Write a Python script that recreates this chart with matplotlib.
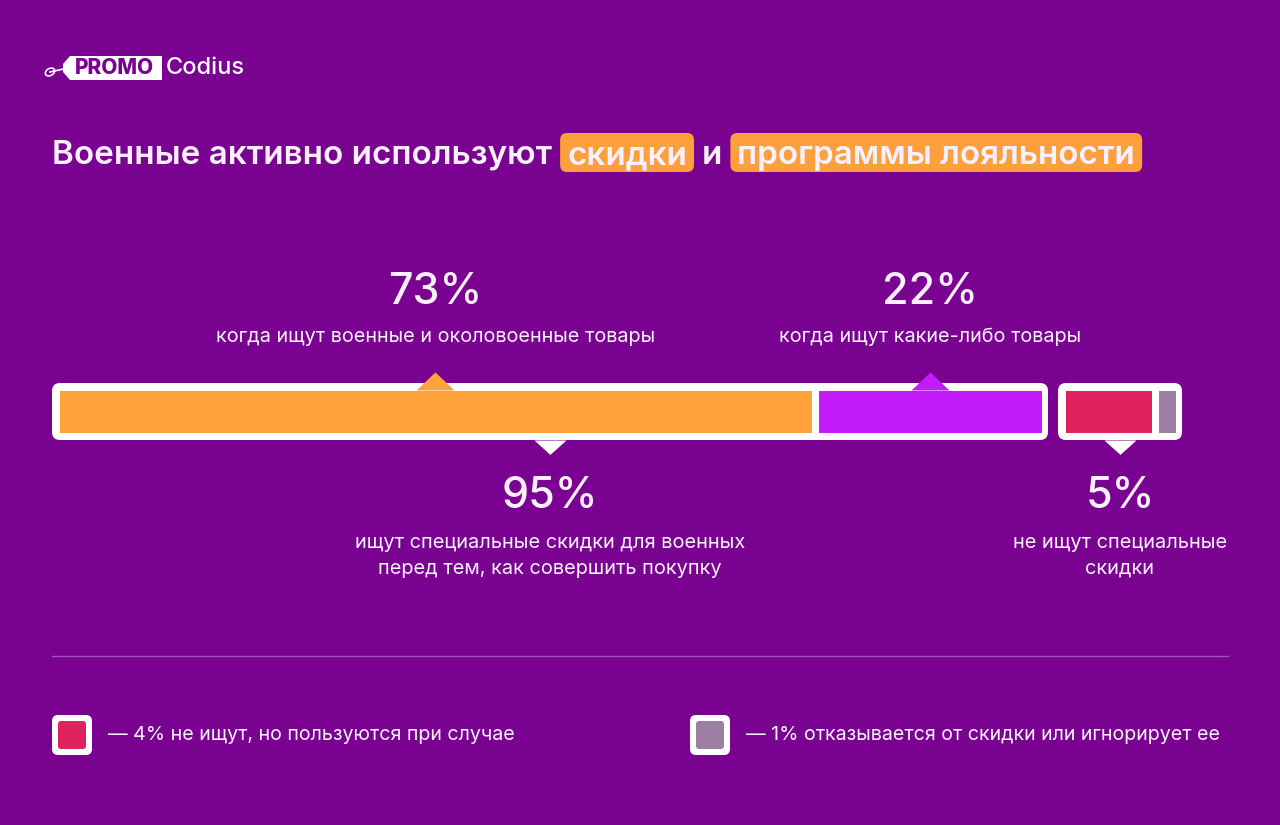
import numpy as np
import matplotlib.pyplot as plt
from matplotlib.patches import FancyBboxPatch, Polygon, Ellipse
from matplotlib.path import Path
from matplotlib import transforms

# ── Data ───────────────────────────────────────────────────────────────────────

group_main   = [73, 22]          # ищут скидки (95%)
group_other  = [4, 1]            # не ищут (5%)
main_colors  = ["#FFA23A", "#C41BFA"]
other_colors = ["#E0235F", "#9D7FA3"]
main_labels  = ["когда ищут военные и околовоенные товары", "когда ищут какие-либо товары"]
group_totals = [95, 5]
group_labels = ["ищут специальные скидки для военных\nперед тем, как совершить покупку",
                "не ищут специальные\nскидки"]
legend_texts = ["— 4% не ищут, но пользуются при случае",
                "— 1% отказывается от скидки или игнорирует ее"]

title_parts = [("Военные активно используют", False), ("скидки", True),
               ("и", False), ("программы лояльности", True)]

BG     = "#7A0290"
WHITE  = "#FFFFFF"
TXT    = "#FBF0FF"
FONT   = ["Inter", "DejaVu Sans"]

plt.rcParams["font.family"] = FONT

W, H = 1280, 825
fig = plt.figure(figsize=(W / 100, H / 100), dpi=100, facecolor=BG)
ax = fig.add_axes([0, 0, 1, 1])
ax.set_xlim(0, W)
ax.set_ylim(H, 0)
ax.axis("off")
ax.set_facecolor(BG)


def px_axes(x0, y0, x1, y1):
    a = fig.add_axes([x0 / W, 1 - y1 / H, (x1 - x0) / W, (y1 - y0) / H])
    a.axis("off")
    return a


# ── Logo ───────────────────────────────────────────────────────────────────────

tag = Polygon([(70, 56), (162, 56), (162, 80), (70, 80), (63, 72), (63, 64)],
              closed=True, facecolor=WHITE, edgecolor="none", joinstyle="round")
ax.add_patch(tag)
ax.add_patch(Ellipse((50, 72), 10, 7, angle=-30, facecolor="none", edgecolor=WHITE, lw=1.2))
ax.plot([50, 68], [72, 68], color=WHITE, lw=1.2)
ax.text(114, 68.5, "PROMO", color=BG, fontsize=15, fontweight="heavy",
        ha="center", va="center")
ax.text(166, 68, "Codius", color=WHITE, fontsize=17, fontweight="medium",
        ha="left", va="center")

# ── Title with highlighted words ──────────────────────────────────────────────

fig.canvas.draw()
renderer = fig.canvas.get_renderer()
GAP, PAD = 8, 7
x = 52
for i, (part, hl) in enumerate(title_parts):
    if i > 0:
        x += GAP
    tx = x + PAD if hl else x
    t = ax.text(tx, 152, part, color=TXT, fontsize=23.9, fontweight="semibold",
                ha="left", va="center_baseline", zorder=4)
    bb = t.get_window_extent(renderer=renderer)
    w = bb.width * W / fig.bbox.width
    if hl:
        ax.add_patch(FancyBboxPatch((x, 133), w + 2 * PAD, 39,
                                    boxstyle="round,pad=0,rounding_size=7",
                                    facecolor="#FBA03C", edgecolor="none", zorder=3))
        x += w + 2 * PAD
    else:
        x += w

# ── Bars ───────────────────────────────────────────────────────────────────────

frames = [(52, 383, 1048, 440), (1058, 383, 1182, 440)]
groups = [(group_main, main_colors), (group_other, other_colors)]
bar_axes = []
for (fx0, fy0, fx1, fy1), (vals, cols) in zip(frames, groups):
    ax.add_patch(FancyBboxPatch((fx0, fy0), fx1 - fx0, fy1 - fy0,
                                boxstyle="round,pad=0,rounding_size=8",
                                facecolor=WHITE, edgecolor="none", zorder=2))
    bax = px_axes(fx0 + 3.5, fy0 + 3.5, fx1 - 3.5, fy1 - 3.5)
    bax.set_xlim(0, sum(vals))
    bax.set_ylim(0, 1)
    lefts = np.concatenate([[0], np.cumsum(vals)[:-1]])
    bax.barh(0.5, vals, left=lefts, height=1, color=cols,
             edgecolor=WHITE, linewidth=7 * 72 / 100)
    bar_axes.append((bax, vals, lefts, cols))

# pointers
up_tri = Path([(-1, 0), (1, 0), (0, 0.95), (-1, 0)],
              [Path.MOVETO, Path.LINETO, Path.LINETO, Path.CLOSEPOLY])
down_tri = Path([(-1, 0), (1, 0), (0, -0.9), (-1, 0)],
                [Path.MOVETO, Path.LINETO, Path.LINETO, Path.CLOSEPOLY])

bax95, vals95, lefts95, cols95 = bar_axes[0]
y_in = 1 - 3.5 / 51
for v, l, c, lab in zip(vals95, lefts95, cols95, main_labels):
    cx = l + v / 2
    bax95.plot(cx, y_in, marker=up_tri, ms=38 * 0.72, color=c, mec="none",
               clip_on=False, zorder=5)
    tr = transforms.blended_transform_factory(bax95.transData, ax.transData)
    ax.text(cx, 292, f"{v}%", transform=tr, color=TXT, fontsize=31,
            fontweight="medium", ha="center", va="center")
    ax.text(cx, 337, lab, transform=tr, color=TXT, fontsize=14.3,
            ha="center", va="center")

for (bax, vals, lefts, cols), tot, lab in zip(bar_axes, group_totals, group_labels):
    cx = sum(vals) / 2
    bax.plot(cx, -3.5 / 51, marker=down_tri, ms=32 * 0.72, color=WHITE,
             mec="none", clip_on=False, zorder=5)
    tr = transforms.blended_transform_factory(bax.transData, ax.transData)
    ax.text(cx, 497, f"{tot}%", transform=tr, color=TXT, fontsize=31,
            fontweight="medium", ha="center", va="center")
    ax.text(cx, 556, lab, transform=tr, color=TXT, fontsize=14.4,
            ha="center", va="center", linespacing=1.5)

# ── Separator & legend ────────────────────────────────────────────────────────

ax.plot([52, 1228], [656, 656], color="#A650BE", lw=1)

legend_x = [52, 690]
for lx, col, txt in zip(legend_x, other_colors, legend_texts):
    ax.add_patch(FancyBboxPatch((lx, 715), 40, 40, boxstyle="round,pad=0,rounding_size=6",
                                facecolor=WHITE, edgecolor="none"))
    ax.add_patch(FancyBboxPatch((lx + 6, 721), 28, 28, boxstyle="round,pad=0,rounding_size=3",
                                facecolor=col, edgecolor="none"))
    ax.text(lx + 56, 735, txt, color=TXT, fontsize=14.15, ha="left", va="center")

fig.savefig("out.png", dpi=100, facecolor=BG)
